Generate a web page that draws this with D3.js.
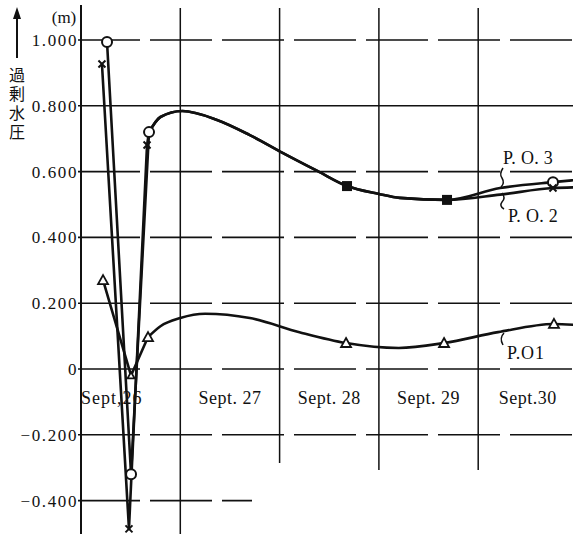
<!DOCTYPE html>
<html><head><meta charset="utf-8">
<script src="https://cdn.jsdelivr.net/npm/d3@7"></script>
<style>
html,body{margin:0;padding:0;background:#fff;}
svg{display:block;}
text{font-family:"Liberation Serif","DejaVu Serif",serif;fill:#111;}
</style></head>
<body>
<svg id="c" width="573" height="534"></svg>
<script>
// ---- data (t = days since Sept 26 00:00, v = excess water pressure in m) ----
const days = ["Sept,26", "Sept. 27", "Sept. 28", "Sept. 29", "Sept.30"];
const yTicks = [1.0, 0.8, 0.6, 0.4, 0.2, 0, -0.2, -0.4];
const yTickLabels = ["1.000", "0.800", "0.600", "0.400", "0.200", "0", "\u22120.200", "\u22120.400"];

// observed points (markers)
const po3T = [0.262, 0.504, 0.685, 2.679, 3.686, 4.753];
const po3V = [0.994, -0.32, 0.72, 0.556, 0.514, 0.568];
const po2T = [0.211, 0.483, 0.665, 2.679, 3.686, 4.753];
const po2V = [0.927, -0.486, 0.681, 0.556, 0.514, 0.55];
const po1T = [0.222, 0.504, 0.675, 2.669, 3.656, 4.763];
const po1V = [0.27, -0.02, 0.097, 0.079, 0.079, 0.137];

// hand-drawn smooth curves
const po3CurveT = [0.685, 0.80, 1.02, 1.37, 1.70, 2.03, 2.38, 2.679, 3.00, 3.21, 3.686, 4.22, 4.753, 4.97];
const po3CurveV = [0.72, 0.766, 0.784, 0.757, 0.711, 0.657, 0.602, 0.556, 0.532, 0.52, 0.514, 0.55, 0.568, 0.574];
const po2CurveT = [0.685, 0.80, 1.02, 1.37, 1.70, 2.03, 2.38, 2.679, 3.00, 3.21, 3.686, 4.22, 4.753, 4.97];
const po2CurveV = [0.72, 0.766, 0.784, 0.757, 0.711, 0.657, 0.602, 0.556, 0.532, 0.52, 0.514, 0.53, 0.55, 0.552];
const po1CurveT = [0.675, 0.80, 1.0, 1.25, 1.70, 2.2, 2.669, 3.2, 3.656, 4.2, 4.763, 4.97];
const po1CurveV = [0.097, 0.13, 0.155, 0.168, 0.155, 0.112, 0.079, 0.064, 0.079, 0.112, 0.137, 0.134];

const svg = d3.select("#c");
const x = d3.scaleLinear().domain([0, 5]).range([81, 81 + 5 * 99.3]);
const y = d3.scaleLinear().domain([-0.4, 1.0]).range([500.6, 40]);
const W = 573, H = 534;
const ink = "#111";

// ---- grid ----
const g = svg.append("g");
yTicks.forEach(v => {
  const x2 = v === -0.4 ? 252 : W;
  g.append("line").attr("x1", x(0) - 3).attr("x2", x2)
    .attr("y1", y(v)).attr("y2", y(v))
    .attr("stroke", ink).attr("stroke-width", 1.6)
    .attr("stroke-dasharray", v === 0.8 ? null : "62 10");
});
const vBottoms = [534, 463, 470, 470];
[1, 2, 3, 4].forEach((d, i) => {
  g.append("line").attr("x1", x(d)).attr("x2", x(d))
    .attr("y1", 8).attr("y2", vBottoms[i])
    .attr("stroke", ink).attr("stroke-width", 1.5);
});
// y axis
g.append("line").attr("x1", x(0)).attr("x2", x(0)).attr("y1", 5).attr("y2", H)
  .attr("stroke", ink).attr("stroke-width", 2);

// tick labels
yTicks.forEach((v, i) => {
  svg.append("text").attr("x", 78).attr("y", y(v) + 6)
    .attr("text-anchor", "end").attr("font-size", 17)
    .attr("letter-spacing", 1.6).text(yTickLabels[i]);
});
days.forEach((d, i) => {
  svg.append("text").attr("x", i === 0 ? 81 : x(i + 0.5)).attr("y", 404)
    .attr("text-anchor", i === 0 ? "start" : "middle").attr("font-size", 18)
    .attr("letter-spacing", i === 0 ? 1 : 0.5).text(d);
});

// unit, arrow, vertical title
svg.append("text").attr("x", 64).attr("y", 23).attr("text-anchor", "middle")
  .attr("font-size", 17).text("(m)");
svg.append("line").attr("x1", 17).attr("x2", 17).attr("y1", 58).attr("y2", 16)
  .attr("stroke", ink).attr("stroke-width", 2);
svg.append("path").attr("d", "M17,7 L13,19 L21,19 Z").attr("fill", ink);
svg.append("text").attr("x", 17).attr("y", 67)
  .attr("font-size", 16).attr("letter-spacing", 3)
  .style("writing-mode", "vertical-rl")
  .style("font-family", "'Noto Sans CJK JP',sans-serif").text("過剰水圧");

// ---- lines ----
const zip = (T, V) => T.map((t, i) => [t, V[i]]);
const lin = d3.line().x(d => x(d[0])).y(d => y(d[1]));
const smooth = d3.line().x(d => x(d[0])).y(d => y(d[1])).curve(d3.curveMonotoneX);
const L = svg.append("g").attr("fill", "none").attr("stroke", ink).attr("stroke-width", 2.6)
  .attr("stroke-linejoin", "round");

// Sept 26 straight segments
L.append("path").attr("d", lin(zip(po3T.slice(0, 3), po3V.slice(0, 3))));
L.append("path").attr("d", lin(zip(po2T.slice(0, 3), po2V.slice(0, 3)).concat([[po2CurveT[0], po2CurveV[0]]])));
L.append("path").attr("d", lin(zip(po1T.slice(0, 3), po1V.slice(0, 3))));
// smooth curves
L.append("path").attr("d", smooth(zip(po3CurveT, po3CurveV)));
L.append("path").attr("d", smooth(zip(po2CurveT, po2CurveV)));
L.append("path").attr("d", smooth(zip(po1CurveT, po1CurveV)));

// ---- markers ----
const M = svg.append("g");
const shared = (t, v) => po3T.some((tt, i) => tt === t && po3V[i] === v);
// P.O.3 circles (filled block where it coincides with P.O.2)
zip(po3T, po3V).forEach(([t, v]) => {
  if (zip(po2T, po2V).some(([a, b]) => a === t && b === v)) {
    M.append("rect").attr("x", x(t) - 5).attr("y", y(v) - 5)
      .attr("width", 10).attr("height", 10).attr("fill", ink);
  } else {
    M.append("circle").attr("cx", x(t)).attr("cy", y(v)).attr("r", 5)
      .attr("fill", "#fff").attr("stroke", ink).attr("stroke-width", 2);
  }
});
// P.O.2 crosses
zip(po2T, po2V).forEach(([t, v]) => {
  if (shared(t, v)) return;
  const cx = x(t), cy = y(v), s = 3.5;
  M.append("path").attr("d", `M${cx - s},${cy - s}L${cx + s},${cy + s}M${cx - s},${cy + s}L${cx + s},${cy - s}`)
    .attr("stroke", ink).attr("stroke-width", 2);
});
// P.O.1 triangles
zip(po1T, po1V).forEach(([t, v], i) => {
  const cx = x(t), cy = y(v), s = i === 1 ? 3.5 : 5;
  M.append("path").attr("d", `M${cx},${cy - s}L${cx + s},${cy + s * 0.8}L${cx - s},${cy + s * 0.8}Z`)
    .attr("fill", "#fff").attr("stroke", ink).attr("stroke-width", 1.8);
});

// ---- series labels with brackets ----
const lab = (txt, xx, yy, ls) => svg.append("text").attr("x", xx).attr("y", yy)
  .attr("font-size", 18).attr("letter-spacing", ls).text(txt);
lab("P. O. 3", 503, 164, 0.3);
lab("P. O. 2", 508, 222, 0.3);
lab("P.O1", 507, 359, 0.8);
const B = svg.append("g").attr("fill", "none").attr("stroke", ink).attr("stroke-width", 1.5);
B.append("path").attr("d", "M503,168 Q499,174 502,178 Q505,183 501,187");
B.append("path").attr("d", "M502,193 Q506,198 502,202 Q499,206 504,209");
B.append("path").attr("d", "M504,333 Q499,338 503,345");
</script>
</body></html>
